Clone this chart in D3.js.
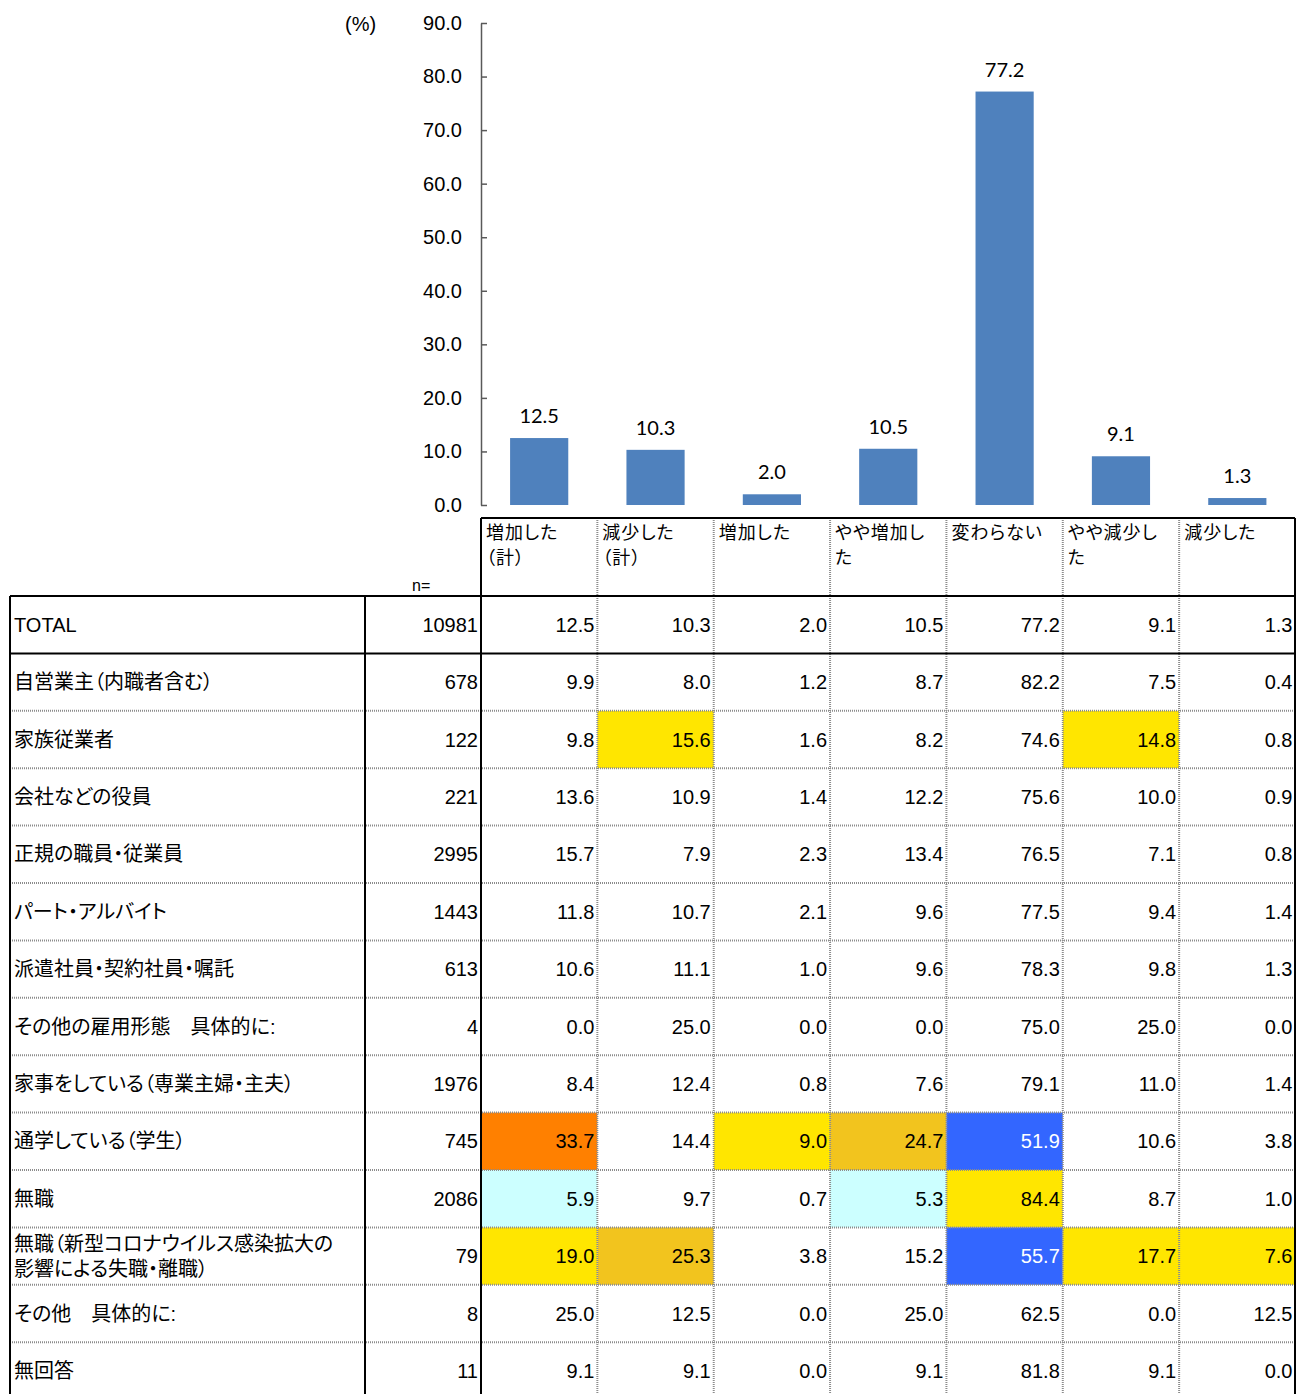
<!DOCTYPE html>
<html>
<head>
<meta charset="utf-8">
<script src="https://cdn.jsdelivr.net/npm/d3@7"></script>
<style>
  body { margin: 0; background: #fff; }
  text { font-family: "Liberation Sans", Arial, "Noto Sans CJK JP", sans-serif; font-feature-settings: "palt"; }
</style>
</head>
<body>
<div id="chart"></div>
<script>
// column headers (also bar categories)
var categories = ["増加した\n（計）", "減少した\n（計）", "増加した", "やや増加し\nた", "変わらない", "やや減少し\nた", "減少した"];

// row labels and n
var rowLabels = ["TOTAL", "自営業主（内職者含む）", "家族従業者", "会社などの役員", "正規の職員・従業員",
  "パート・アルバイト", "派遣社員・契約社員・嘱託", "その他の雇用形態　具体的に:", "家事をしている（専業主婦・主夫）",
  "通学している（学生）", "無職", "無職（新型コロナウイルス感染拡大の\n影響による失職・離職）", "その他　具体的に:", "無回答"];
var rowN = [10981, 678, 122, 221, 2995, 1443, 613, 4, 1976, 745, 2086, 79, 8, 11];

// percentages per row
var values = [
  [12.5, 10.3, 2.0, 10.5, 77.2, 9.1, 1.3],
  [9.9, 8.0, 1.2, 8.7, 82.2, 7.5, 0.4],
  [9.8, 15.6, 1.6, 8.2, 74.6, 14.8, 0.8],
  [13.6, 10.9, 1.4, 12.2, 75.6, 10.0, 0.9],
  [15.7, 7.9, 2.3, 13.4, 76.5, 7.1, 0.8],
  [11.8, 10.7, 2.1, 9.6, 77.5, 9.4, 1.4],
  [10.6, 11.1, 1.0, 9.6, 78.3, 9.8, 1.3],
  [0.0, 25.0, 0.0, 0.0, 75.0, 25.0, 0.0],
  [8.4, 12.4, 0.8, 7.6, 79.1, 11.0, 1.4],
  [33.7, 14.4, 9.0, 24.7, 51.9, 10.6, 3.8],
  [5.9, 9.7, 0.7, 5.3, 84.4, 8.7, 1.0],
  [19.0, 25.3, 3.8, 15.2, 55.7, 17.7, 7.6],
  [25.0, 12.5, 0.0, 25.0, 62.5, 0.0, 12.5],
  [9.1, 9.1, 0.0, 9.1, 81.8, 9.1, 0.0]
];

// highlight codes: o=orange, y=yellow, g=gold, c=cyan, b=blue
var highlights = [
  "-------", "-------", "-y---y-", "-------", "-------", "-------", "-------",
  "-------", "-------", "o-ygb--", "c--cy--", "yg--byy", "-------", "-------"
];

// bar chart = TOTAL row
var barValues = values[0];
var yTicks = [0, 10, 20, 30, 40, 50, 60, 70, 80, 90];

var width = 1296, height = 1394;
var fills = { o: "#FF8000", y: "#FFE600", g: "#F2C41E", c: "#CCFFFF", b: "#3366FF" };

var svg = d3.select("#chart").append("svg")
  .attr("width", width).attr("height", height);

var x = d3.scaleBand().domain(categories).range([481, 1295.5]);
var y = d3.scaleLinear().domain([0, 90]).range([505, 23]);
var rowH = 57.4;
var ry = d3.scaleBand().domain(rowLabels).range([596, 596 + rowH * rowLabels.length]);

// ---- bar chart ----
var axis = d3.axisLeft(y).tickValues(yTicks).tickFormat(d3.format(".1f"))
  .tickSize(-6).tickSizeOuter(0).tickPadding(19);
var ag = svg.append("g").attr("transform", "translate(481,0)").call(axis);
ag.select(".domain").attr("stroke", "#595959").attr("stroke-width", 1.5);
ag.selectAll(".tick line").attr("stroke", "#595959").attr("stroke-width", 1.5);
ag.selectAll(".tick text").attr("fill", "#000").style("font-size", "20px")
  .style("font-family", "'Liberation Sans', Arial, sans-serif");

svg.append("text").attr("x", 345).attr("y", 31).style("font-size", "20px").text("(%)");

var bw = x.bandwidth();
svg.selectAll("rect.bar").data(barValues).enter().append("rect")
  .attr("class", "bar")
  .attr("x", function(d, i) { return x(categories[i]) + bw * 0.25; })
  .attr("width", bw * 0.5)
  .attr("y", function(d) { return y(d); })
  .attr("height", function(d) { return y(0) - y(d); })
  .attr("fill", "#4F81BD");

svg.selectAll("text.barlab").data(barValues).enter().append("text")
  .attr("class", "barlab")
  .attr("x", function(d, i) { return x(categories[i]) + bw / 2; })
  .attr("y", function(d) { return y(d) - 15; })
  .attr("text-anchor", "middle")
  .style("font-family", "Lato, 'Open Sans', sans-serif")
  .style("font-size", "20px")
  .text(function(d) { return d.toFixed(1); });

// ---- table ----
// cell fills
values.forEach(function(row, r) {
  row.forEach(function(v, c) {
    var h = highlights[r][c];
    if (h !== "-") {
      svg.append("rect")
        .attr("x", x(categories[c])).attr("y", ry(rowLabels[r]))
        .attr("width", bw).attr("height", ry.bandwidth())
        .attr("fill", fills[h]);
    }
  });
});

// header labels
categories.forEach(function(c) {
  c.split("\n").forEach(function(line, k) {
    svg.append("text")
      .attr("x", x(c) + 5).attr("y", 539 + k * 25)
      .style("font-size", "18px").style("letter-spacing", "1px")
      .style("font-family", "'Noto Sans CJK JP', sans-serif")
      .text(line);
  });
});
svg.append("text").attr("x", 412).attr("y", 591).style("font-size", "16px").text("n=");

// rows
rowLabels.forEach(function(lab, r) {
  var cy = ry(lab) + ry.bandwidth() / 2;
  var lines = lab.split("\n");
  lines.forEach(function(line, k) {
    svg.append("text")
      .attr("x", 14)
      .attr("y", cy + 7 + (k - (lines.length - 1) / 2) * 25)
      .style("font-size", "20px")
      .text(line);
  });
  svg.append("text").attr("x", 478).attr("y", cy + 7)
    .attr("text-anchor", "end").style("font-size", "20px").text(rowN[r]);
  values[r].forEach(function(v, c) {
    svg.append("text")
      .attr("x", x(categories[c]) + bw - 3).attr("y", cy + 7)
      .attr("text-anchor", "end").style("font-size", "20px")
      .attr("fill", highlights[r][c] === "b" ? "#fff" : "#000")
      .text(v.toFixed(1));
  });
});

// grid lines
var bottom = 596 + rowH * rowLabels.length;
var dotted = function(sel) {
  return sel.attr("stroke", "#8c8c8c").attr("stroke-width", 2).attr("stroke-dasharray", "1,1");
};
var solid = function(sel) {
  return sel.attr("stroke", "#000").attr("stroke-width", 2);
};

// inner dotted horizontals
rowLabels.slice(2).forEach(function(lab) {
  dotted(svg.append("line").attr("x1", 10).attr("x2", 1295).attr("y1", ry(lab)).attr("y2", ry(lab)));
});
// inner dotted verticals
categories.slice(1).forEach(function(c) {
  dotted(svg.append("line").attr("x1", x(c)).attr("x2", x(c)).attr("y1", 518).attr("y2", bottom));
});
// solid lines
solid(svg.append("line").attr("x1", 481).attr("x2", 1295).attr("y1", 518).attr("y2", 518));
[rowLabels[0], rowLabels[1]].forEach(function(lab) {
  solid(svg.append("line").attr("x1", 10).attr("x2", 1295).attr("y1", ry(lab)).attr("y2", ry(lab)));
});
[10, 365].forEach(function(xx) {
  solid(svg.append("line").attr("x1", xx).attr("x2", xx).attr("y1", 596).attr("y2", bottom));
});
[481, 1295].forEach(function(xx) {
  solid(svg.append("line").attr("x1", xx).attr("x2", xx).attr("y1", 518).attr("y2", bottom));
});
</script>
</body>
</html>
